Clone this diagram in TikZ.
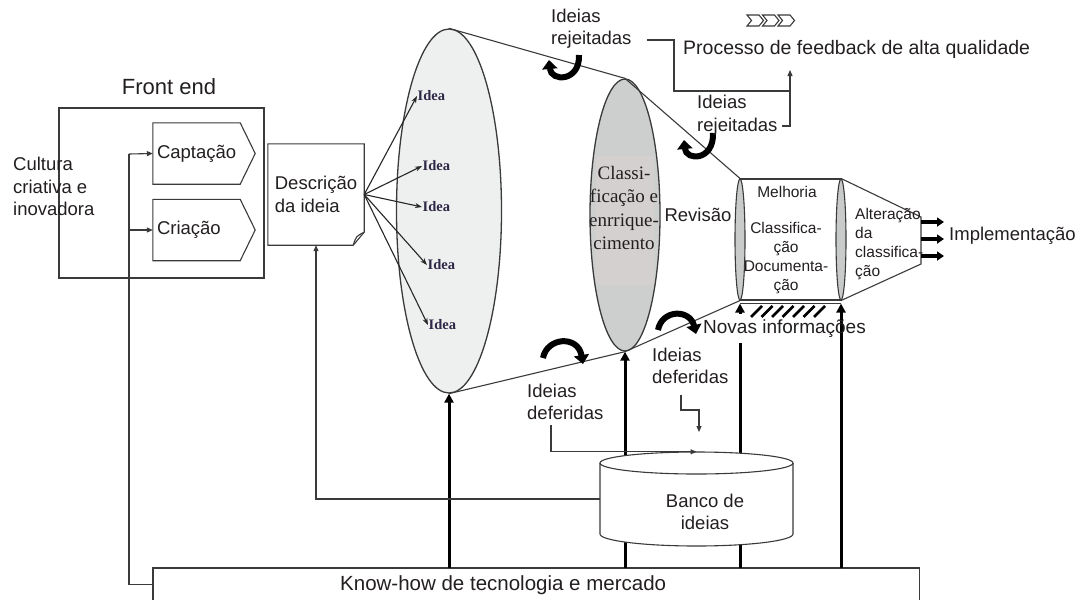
\documentclass[tikz,border=0pt]{standalone}
\usepackage{fontspec}
\setmainfont{Liberation Sans}
\newfontfamily\serifface{Liberation Serif}
\usetikzlibrary{arrows.meta,shapes.geometric}

\definecolor{ink}{HTML}{231F20}
\definecolor{linegray}{HTML}{3A3A3A}
\definecolor{paleell}{HTML}{EEEFEF}
\definecolor{midell}{HTML}{CDCFCF}
\definecolor{lensgray}{HTML}{C9CBCB}
\definecolor{rosebg}{HTML}{D4D0D0}
\definecolor{ideaink}{HTML}{2E2746}

\tikzset{
  base/.style={text=ink, inner sep=0pt, font=\fontsize{18.5}{22.5}\selectfont},
  small/.style={base, font=\fontsize{15.5}{19}\selectfont},
  thinline/.style={draw=linegray, line width=1.1pt},
  smalltip/.style={-{Triangle[length=6pt,width=5pt]}},
  heavy/.style={draw=black, line width=3pt, -{Triangle[length=9pt,width=9pt]}},
  hook/.style={draw=black, line width=6pt, -{Triangle[length=9pt,width=15pt]}},
  ideaarrow/.style={draw=black!85, line width=1.1pt, -{Stealth[length=7pt,width=5pt]}},
  idealabel/.style={text=ideaink, inner sep=0.5pt, anchor=west, font=\serifface\bfseries\fontsize{14.5}{16}\selectfont},
  outarrow/.style={draw=black, line width=3.5pt, -{Triangle[length=7pt,width=9pt]}},
  hatchstroke/.style={draw=black, line width=2.6pt},
  every node/.style={base}
}

\begin{document}
\begin{tikzpicture}[x=1pt,y=-1pt]
\useasboundingbox (0,0) rectangle (1086,600);
\fill[white] (0,0) rectangle (1086,600);

% ---------- front end ----------
\node[font=\fontsize{22}{26}\selectfont] (fetitle) at (169,87) {Front end};
\node[thinline, minimum width=205pt, minimum height=170pt] (fe) at (161.5,193) {};
\node[anchor=west, align=left] (cult) at (13,186.5) {Cultura\\criativa e\\inovadora};

\node[minimum width=102pt, minimum height=61pt, text width=94pt, align=left] (capt) at (204,153.5) {Captação};
\draw[thinline] (capt.north west) -- ([xshift=-15pt]capt.north east) -- (capt.east)
  -- ([xshift=-15pt]capt.south east) -- (capt.south west) -- cycle;
\node[minimum width=102pt, minimum height=61pt, text width=94pt, align=left] (crea) at (204,230) {Criação};
\draw[thinline] (crea.north west) -- ([xshift=-15pt]crea.north east) -- (crea.east)
  -- ([xshift=-15pt]crea.south east) -- (crea.south west) -- cycle;

% ---------- idea description (document shape) ----------
\node[minimum width=96pt, minimum height=101pt, align=left] (desc) at (316,194.5) {Descrição\\da ideia};
\draw[thinline] (desc.north west) -- (desc.north east) -- ([yshift=13pt]desc.south east)
  -- ([xshift=-11pt]desc.south east) -- (desc.south west) -- cycle;
\draw[thinline] ([yshift=13pt]desc.south east) .. controls ([xshift=-8pt,yshift=9pt]desc.south east) .. ([xshift=-11pt]desc.south east);

% ---------- know-how base ----------
\node[minimum width=766pt, minimum height=32pt, anchor=north west] (kh) at (153,568) {};
\draw[thinline] (kh.south west) -- (kh.north west) -- (kh.north east) -- (kh.south east);
\node[anchor=west, font=\fontsize{20.5}{24}\selectfont] (khtxt) at (340,585) {Know-how de tecnologia e mercado};

% ---------- funnel stages ----------
\node[ellipse, draw=linegray, line width=1.3pt, fill=paleell, minimum width=105pt, minimum height=364pt] (bigell) at (449,211) {};
\node[ellipse, draw=linegray, line width=1.3pt, fill=midell, minimum width=70pt, minimum height=272pt] (clsell) at (625,215) {};
\fill[rosebg] (596,156) rectangle (654,285);
\node[font=\serifface\fontsize{19}{23.3}\selectfont, align=center] (clstxt) at (624,208) {Classi-\\ficação e\\enrrique-\\cimento};

\node[thinline, line width=1.2pt, minimum width=101pt, minimum height=121pt] (proc) at (790.5,239.5) {};
\node[ellipse, draw=linegray, line width=1.1pt, fill=lensgray, minimum width=10pt, minimum height=121pt] (lensL) at (740,239.5) {};
\node[ellipse, draw=linegray, line width=1.1pt, fill=lensgray, minimum width=10pt, minimum height=121pt] (lensR) at (841,239.5) {};
\node[small] (melh) at (787,192) {Melhoria};
\node[small, align=center] (cldoc) at (786,258.5) {Classifica-\\ção\\Documenta-\\ção};

\draw[thinline] (bigell.north) -- (clsell.north) -- (lensL.north);
\draw[thinline] (bigell.south) -- (clsell.south) -- (lensL.south);

\coordinate (fr1) at (921,217);
\coordinate (fr2) at (921,264);
\draw[thinline] (lensR.north) -- (fr1) -- (fr2) -- (lensR.south);
\node[small, anchor=west, align=left] (alt) at (855,244) {Alteração\\da\\classifica-\\ção};

\node[anchor=west] (impl) at (949,236) {Implementação};
\coordinate (a1) at (921,222);
\coordinate (a2) at (921,239);
\coordinate (a3) at (921,256);
\draw[outarrow, shorten >=5pt] (a1) -- (impl.west |- a1);
\draw[outarrow, shorten >=5pt] (a2) -- (impl.west |- a2);
\draw[outarrow, shorten >=5pt] (a3) -- (impl.west |- a3);

\node (rev) at (698,215) {Revisão};

% ---------- ideas spreading from the description ----------
\node[idealabel] (idea1) at (417,96) {Idea};
\node[idealabel] (idea2) at (422,166) {Idea};
\node[idealabel] (idea3) at (422,207) {Idea};
\node[idealabel] (idea4) at (427,265) {Idea};
\node[idealabel] (idea5) at (428,325) {Idea};
\foreach \n in {idea1,idea2,idea3,idea4,idea5}
  \draw[ideaarrow] (desc.east) -- (\n.west);

% ---------- rejected / deferred ideas ----------
\draw[hook] (579,55) .. controls (580,82) and (551,82) .. (549,60);
\draw[hook] (713,133) .. controls (714,161) and (686,161) .. (684,140);
\draw[hook] (543,358) .. controls (547,337) and (578,335) .. (583,364);
\draw[hook] (658,330) .. controls (662,309) and (690,309) .. (696,334);

\node[anchor=west, align=left] (rej1) at (551,28.5) {Ideias\\rejeitadas};
\node[anchor=west, align=left] (rej2) at (697,115) {Ideias\\rejeitadas};
\node[anchor=west, font=\fontsize{19.5}{23}\selectfont] (fb) at (683,49) {Processo de feedback de alta qualidade};
\foreach \k in {0,1,2}
  \draw[draw=linegray, line width=1.1pt] ({747+15.5*\k},15) -- ++(12,0) -- ++(4.5,5.5) -- ++(-4.5,5.5) -- ++(-12,0) -- ++(4.5,-5.5) -- cycle;
\coordinate (r1) at (647,40);
\coordinate (r2) at (782,126);
\coordinate (jn) at (790,91);
\coordinate (fbin) at (790,70);
\draw[thinline] (r1) -- (674,40) -- (674,91) -- (jn);
\draw[thinline] (r2) -- (790,126) -- (jn);
\draw[thinline, smalltip] (jn) -- (fbin);

% ---------- knowledge inputs ----------
\coordinate (gapB) at (740,343);
\coordinate (gapT) at (740,314);
\draw[heavy] (kh.north -| bigell.south) -- (bigell.south);
\draw[heavy] (kh.north -| clsell.south) -- (clsell.south);
\draw[heavy, -] (kh.north -| lensL.south) -- (gapB);
\draw[heavy] (gapT) -- ([yshift=-3pt]lensL.south);
\draw[heavy] (kh.north -| lensR.south) -- ([yshift=-3pt]lensR.south);

% new information bar
\draw[thinline] ([yshift=-3pt]lensL.south) -- ([yshift=-3pt]lensR.south);
\foreach \k in {0,...,6}
  \draw[hatchstroke] ({751+10.5*\k},317) -- ({762+10.5*\k},306);
\node[anchor=west, font=\fontsize{19}{22}\selectfont] (novas) at (703,329) {Novas informações};

% ---------- idea bank ----------
\node[minimum width=193pt, minimum height=94pt] (banco) at (696.5,499) {};
\path[fill=white] (600,463) -- (600,534)
  .. controls (600,540.6) and (643.2,546) .. (696.5,546)
  .. controls (749.8,546) and (793,540.6) .. (793,534) -- (793,463)
  .. controls (793,457) and (749.8,452) .. (696.5,452)
  .. controls (643.2,452) and (600,457) .. (600,463) -- cycle;
\draw[thinline] (600,463) -- (600,534)
  .. controls (600,540.6) and (643.2,546) .. (696.5,546)
  .. controls (749.8,546) and (793,540.6) .. (793,534) -- (793,463);
\draw[thinline] (696.5,463) ellipse [x radius=96.5, y radius=11];
\node[align=center] (bancotxt) at (705,512) {Banco de\\ideias};

\node[anchor=west, align=left] (defL) at (527,402) {Ideias\\deferidas};
\node[anchor=west, align=left] (defR) at (652,366) {Ideias\\deferidas};
\coordinate (dl0) at (551,425);
\draw[thinline, smalltip] (dl0) |- (banco.north);
\coordinate (dr0) at (681,395);
\coordinate (dr1) at (699,432);
\draw[thinline, smalltip] (dr0) -- (681,410) -- (699,410) -- (dr1);

% ---------- feedback to the front end ----------
\draw[thinline, smalltip] (banco.west) -| (desc.south);
\coordinate (vtop) at (129,154);
\draw[thinline] (kh.west) -| (vtop);
\draw[thinline, smalltip] (vtop) -- (capt.west);
\draw[thinline, smalltip] (vtop |- crea.west) -- (crea.west);

\end{tikzpicture}
\end{document}
